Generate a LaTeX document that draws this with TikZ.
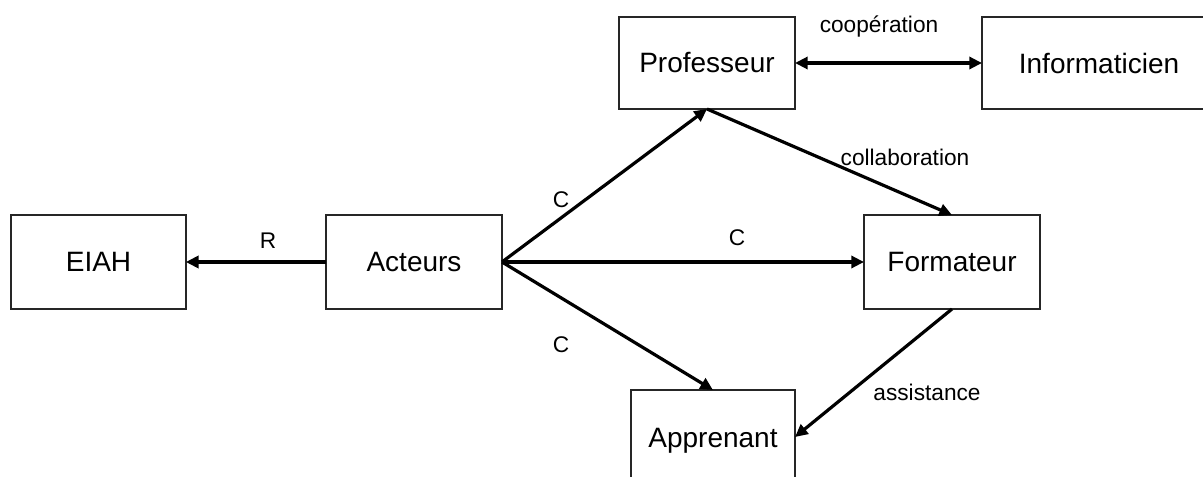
\documentclass[tikz,border=0pt]{standalone}
\usepackage{fontspec}
\setmainfont{Liberation Sans}
\usetikzlibrary{arrows.meta}

\tikzset{
	box/.style={draw=black!85,line width=1.1pt,rectangle,inner sep=0,outer sep=0,font=\fontsize{21}{25}\selectfont},
	lbl/.style={inner sep=0,font=\fontsize{17}{20}\selectfont},
	tip/.style={Triangle[length=9.5pt,width=9pt]},
	link/.style={line width=2.4pt,-{Triangle[length=9.5pt,width=9pt]}}
}

\begin{document}
\begin{tikzpicture}[x=0.75pt,y=-0.75pt]
	\clip (0,0) rectangle (1203,477);
	\node[box,minimum width=131pt,minimum height=70.5pt] (eiah) at (98.5,262) {EIAH};
	\node[box,minimum width=132pt,minimum height=70.5pt] (acteurs) at (414,262) {Acteurs};
	\node[box,minimum width=132pt,minimum height=69pt] (prof) at (707,63) {Professeur};
	\node[box,minimum width=175.5pt,minimum height=69pt] (info) at (1099,63) {Informaticien};
	\node[box,minimum width=132pt,minimum height=70.5pt] (form) at (952,262) {Formateur};
	\node[box,minimum width=123pt,minimum height=76.5pt] (appr) at (713,441) {Apprenant};
	\draw[link] (acteurs) -- (eiah);
	\draw[link,{Triangle[length=9.5pt,width=9pt]}-{Triangle[length=9.5pt,width=9pt]}] (prof) -- (info);
	\draw[link] (acteurs.east) -- (prof.south);
	\draw[link] (acteurs.east) -- (form.west);
	\draw[link] (acteurs.east) -- (appr.north);
	\draw[link] (prof.south) -- (form.north);
	\draw[link] (form.south) -- ([yshift=3pt]appr.east);
	\node[lbl] (lr) at (268,241) {R};
	\node[lbl] (lc1) at (561,200) {C};
	\node[lbl] (lc2) at (737,238) {C};
	\node[lbl] (lc3) at (561,345) {C};
	\node[lbl] (lcoop) at (879,27) {coopération};
	\node[lbl] (lcoll) at (905,157) {collaboration};
	\node[lbl] (lass) at (927,392) {assistance};
\end{tikzpicture}
\end{document}
